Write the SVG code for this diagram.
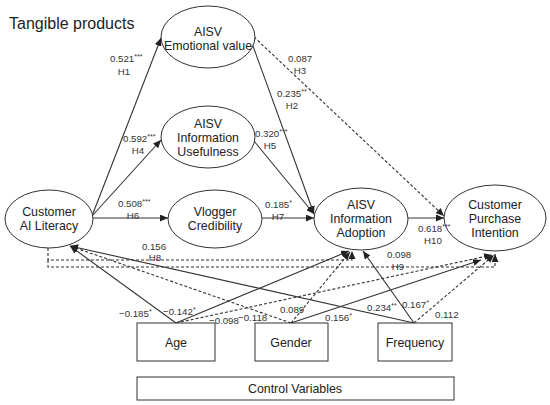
<svg xmlns="http://www.w3.org/2000/svg" width="550" height="405" viewBox="0 0 550 405">
<defs>
<marker id="ah" markerUnits="userSpaceOnUse" markerWidth="9" markerHeight="7" refX="8" refY="3.5" orient="auto"><path d="M0,0 L8,3.5 L0,7 z" fill="#222"/></marker>
<style>
.n{fill:#fff;stroke:#333;stroke-width:1}
.t{font-family:"Liberation Sans",Arial,sans-serif;font-size:12.4px;fill:#222;text-anchor:middle}
.l{font-family:"Liberation Sans",Arial,sans-serif;font-size:9.7px;fill:#333}
.c{text-anchor:middle}
.s{font-size:7px}
.e{fill:none;stroke:#333;stroke-width:1.1;marker-end:url(#ah)}
.d{stroke-dasharray:3,2}
</style>
</defs>
<rect width="550" height="405" fill="#fff"/>
<text x="9" y="29" font-family="'Liberation Sans',Arial,sans-serif" font-size="16" fill="#222">Tangible products</text>

<g id="connectors">
<line class="e" x1="92" y1="216" x2="161" y2="38"/>
<line class="e" x1="92" y1="216" x2="161" y2="140"/>
<line class="e" x1="92" y1="218" x2="168" y2="218"/>
<line class="e" x1="253" y1="46" x2="314" y2="214"/>
<line class="e" x1="254" y1="141" x2="314" y2="214"/>
<line class="e" x1="262" y1="218" x2="314" y2="218"/>
<line class="e d" x1="254" y1="37" x2="444" y2="216"/>
<line class="e" x1="408" y1="218" x2="444" y2="218"/>
<path class="e d" d="M48,248 V260 H352 V251"/>
<path class="e d" d="M48,260 V267 H495 V254"/>
<line class="e" x1="176" y1="323" x2="70" y2="246"/>
<line class="e" x1="176" y1="323" x2="349" y2="251"/>
<line class="e d" x1="176" y1="323" x2="492" y2="255"/>
<line class="e d" x1="291" y1="323" x2="70" y2="246"/>
<line class="e d" x1="291" y1="323" x2="350" y2="252"/>
<line class="e" x1="291" y1="323" x2="481" y2="260"/>
<line class="e" x1="414" y1="323" x2="70" y2="246"/>
<line class="e" x1="414" y1="323" x2="363" y2="251"/>
<line class="e d" x1="414" y1="323" x2="494" y2="255"/>
</g>

<g id="emotional"><ellipse class="n" cx="208" cy="37" rx="47" ry="31"/><text class="t" x="208" y="36">AISV</text><text class="t" x="208" y="50">Emotional value</text></g>
<g id="usefulness"><ellipse class="n" cx="208" cy="137" rx="47" ry="31"/><text class="t" x="208" y="128">AISV</text><text class="t" x="208" y="142">Information</text><text class="t" x="208" y="156">Usefulness</text></g>
<g id="literacy"><ellipse class="n" cx="49" cy="219" rx="44" ry="29"/><text class="t" x="49" y="216">Customer</text><text class="t" x="49" y="230">AI Literacy</text></g>
<g id="credibility"><ellipse class="n" cx="215" cy="219" rx="47" ry="29"/><text class="t" x="215" y="216">Vlogger</text><text class="t" x="215" y="230">Credibility</text></g>
<g id="adoption"><ellipse class="n" cx="361" cy="219" rx="47" ry="31"/><text class="t" x="361" y="209">AISV</text><text class="t" x="361" y="223">Information</text><text class="t" x="361" y="237">Adoption</text></g>
<g id="intention"><ellipse class="n" cx="495" cy="218" rx="51" ry="33"/><text class="t" x="495" y="209">Customer</text><text class="t" x="495" y="223">Purchase</text><text class="t" x="495" y="237">Intention</text></g>
<g id="age"><rect class="n" x="137" y="323" width="78" height="38"/><text class="t" x="176" y="347">Age</text></g>
<g id="gender"><rect class="n" x="255" y="323" width="73" height="38"/><text class="t" x="291" y="347">Gender</text></g>
<g id="frequency"><rect class="n" x="378" y="323" width="74" height="38"/><text class="t" x="415" y="347">Frequency</text></g>
<g id="control"><rect class="n" x="137" y="377" width="317" height="23"/><text class="t" x="295" y="393">Control Variables</text></g>

<g id="labels">
<text class="l" x="110" y="62">0.521<tspan class="s" dy="-3">***</tspan></text>
<text class="l c" x="124" y="75">H1</text>
<text class="l" x="123" y="142">0.592<tspan class="s" dy="-3">***</tspan></text>
<text class="l c" x="138" y="154">H4</text>
<text class="l" x="118" y="207">0.508<tspan class="s" dy="-3">***</tspan></text>
<text class="l c" x="133" y="219">H6</text>
<text class="l" x="265" y="208">0.185<tspan class="s" dy="-3">*</tspan></text>
<text class="l c" x="278" y="220">H7</text>
<text class="l" x="255" y="137">0.320<tspan class="s" dy="-3">***</tspan></text>
<text class="l c" x="270" y="149">H5</text>
<text class="l" x="277" y="97">0.235<tspan class="s" dy="-3">**</tspan></text>
<text class="l c" x="292" y="109">H2</text>
<text class="l" x="288" y="62">0.087</text>
<text class="l c" x="300" y="74">H3</text>
<text class="l" x="418" y="232">0.618<tspan class="s" dy="-3">***</tspan></text>
<text class="l c" x="433" y="244">H10</text>
<text class="l c" x="154" y="250">0.156</text>
<text class="l c" x="155" y="261">H8</text>
<text class="l" x="387" y="258">0.098</text>
<text class="l c" x="398" y="270">H9</text>
<text class="l" x="119" y="317">−0.185<tspan class="s" dy="-3">*</tspan></text>
<text class="l" x="163" y="315">−0.142<tspan class="s" dy="-3">*</tspan></text>
<text class="l" x="209" y="324">−0.098</text>
<text class="l" x="238" y="321">−0.118</text>
<text class="l" x="280" y="313">0.089</text>
<text class="l" x="325" y="321">0.156<tspan class="s" dy="-3">*</tspan></text>
<text class="l" x="367" y="311">0.234<tspan class="s" dy="-3">**</tspan></text>
<text class="l" x="402" y="308">0.167<tspan class="s" dy="-3">*</tspan></text>
<text class="l" x="435" y="318">0.112</text>
</g>
</svg>
